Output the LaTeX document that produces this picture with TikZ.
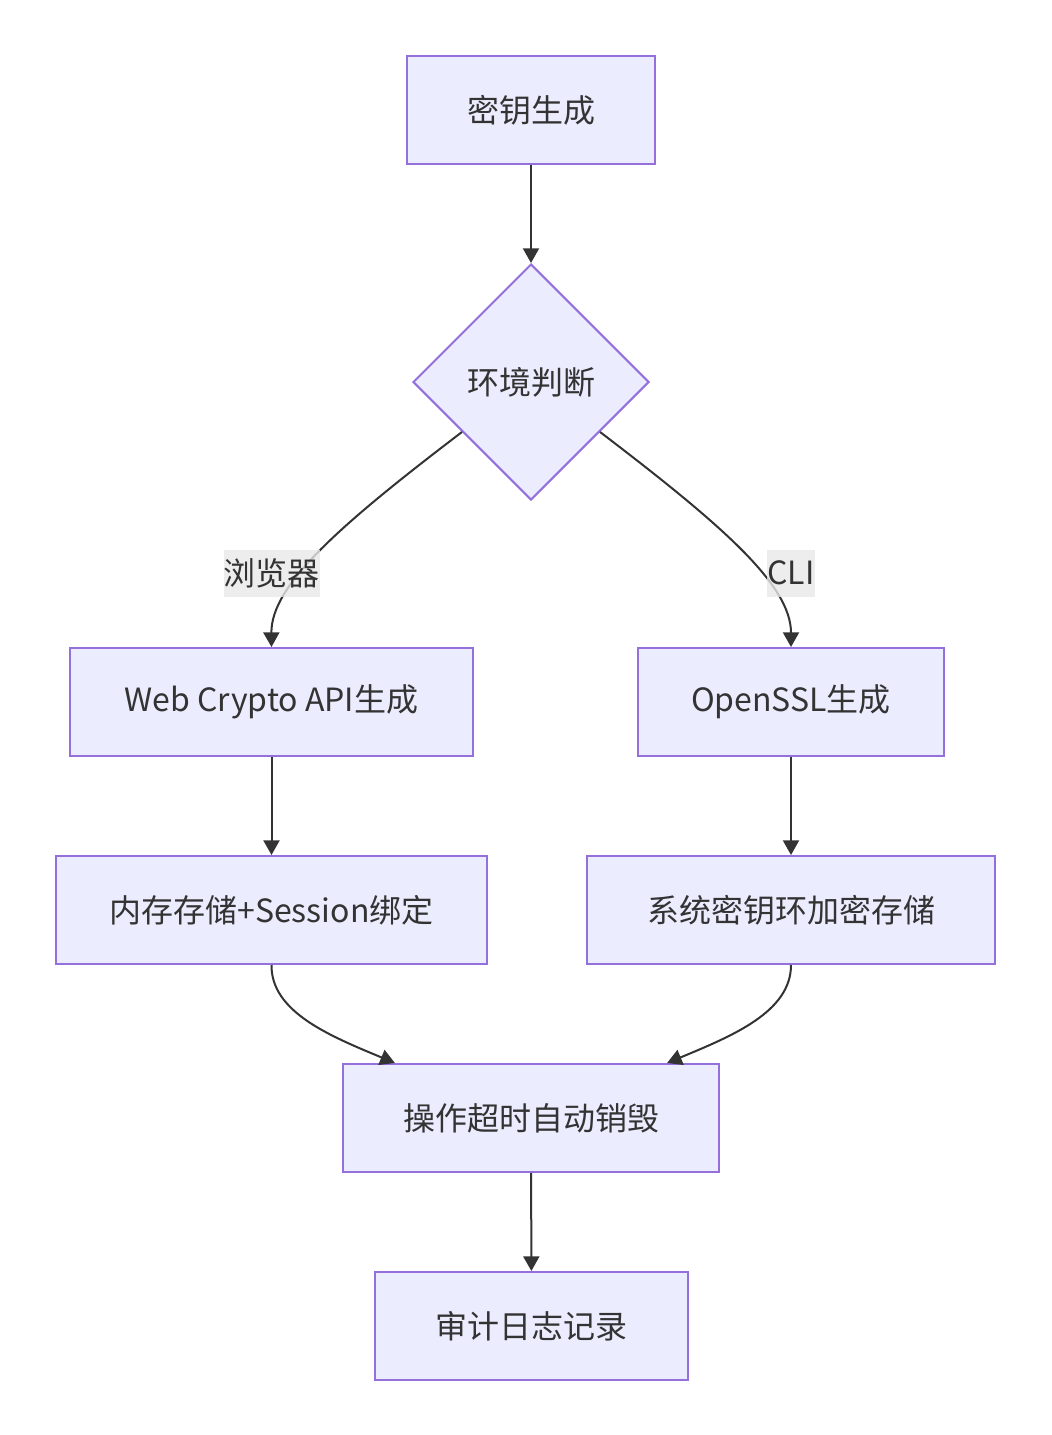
\documentclass[tikz,border=0pt]{standalone}
\usepackage{fontspec}
\setmainfont{Noto Sans CJK SC}
\usetikzlibrary{arrows.meta, positioning, calc, shapes.geometric}
\definecolor{boxfill}{HTML}{ECECFF}
\definecolor{boxline}{HTML}{9370DB}
\definecolor{ink}{HTML}{333333}
\definecolor{lblfill}{HTML}{E8E8E8}
\newcommand\pxu{0.75pt}

\begin{document}
\begin{tikzpicture}[
  x=0.75pt, y=-0.75pt,
  every node/.style={font=\fontsize{24pt}{28pt}\selectfont, text=ink},
  stepbox/.style={rectangle, draw=boxline, fill=boxfill, line width=1.5pt,
    minimum height=108*\pxu, inner sep=0pt},
  decide/.style={diamond, aspect=1, draw=boxline, fill=boxfill, line width=1.5pt,
    minimum width=236*\pxu, minimum height=236*\pxu, inner sep=0pt},
  flow/.style={draw=ink, line width=1.5pt, -{Triangle[length=11pt,width=12pt]}},
  edgelabel/.style={fill=lblfill, fill opacity=0.8, text opacity=1,
    inner xsep=0pt, minimum height=47*\pxu}
]
\useasboundingbox (0,0) rectangle (1051,1435);

% nodes
\node[stepbox, minimum width=248*\pxu] (keygen) at (531,110) {密钥生成};
\node[decide] (env) at (531,382) {环境判断};
\node[stepbox, minimum width=403*\pxu] (webcrypto) at (271.5,702) {Web Crypto API生成};
\node[stepbox, minimum width=306*\pxu] (openssl) at (791,702) {OpenSSL生成};
\node[stepbox, minimum width=431*\pxu] (memstore) at (271.5,910) {内存存储+Session绑定};
\node[stepbox, minimum width=408*\pxu] (keyring) at (791,910) {系统密钥环加密存储};
\node[stepbox, minimum width=376*\pxu] (destroy) at (531,1118) {操作超时自动销毁};
\node[stepbox, minimum width=313*\pxu] (audit) at (531.5,1326) {审计日志记录};

% connectors
\draw[flow] (keygen) -- (env);
\draw[flow] ($(env.west)!0.42!(env.south)$) .. controls (340,525) and (271,585) .. (webcrypto.north);
\draw[flow] ($(env.east)!0.42!(env.south)$) .. controls (722,525) and (791,585) .. (openssl.north);
\draw[flow] (webcrypto) -- (memstore);
\draw[flow] (openssl) -- (keyring);
\draw[flow] (memstore.south) .. controls (271,1012) and (330,1036) .. ($(destroy.north west)!0.14!(destroy.north east)$);
\draw[flow] (keyring.south) .. controls (791,1012) and (732,1036) .. ($(destroy.north west)!0.86!(destroy.north east)$);
\draw[flow] (destroy) -- (audit);

% edge labels
\node[edgelabel] (lblbrowser) at (271.5,573) {浏览器};
\node[edgelabel] (lblcli) at (791,573) {CLI};

\end{tikzpicture}
\end{document}
